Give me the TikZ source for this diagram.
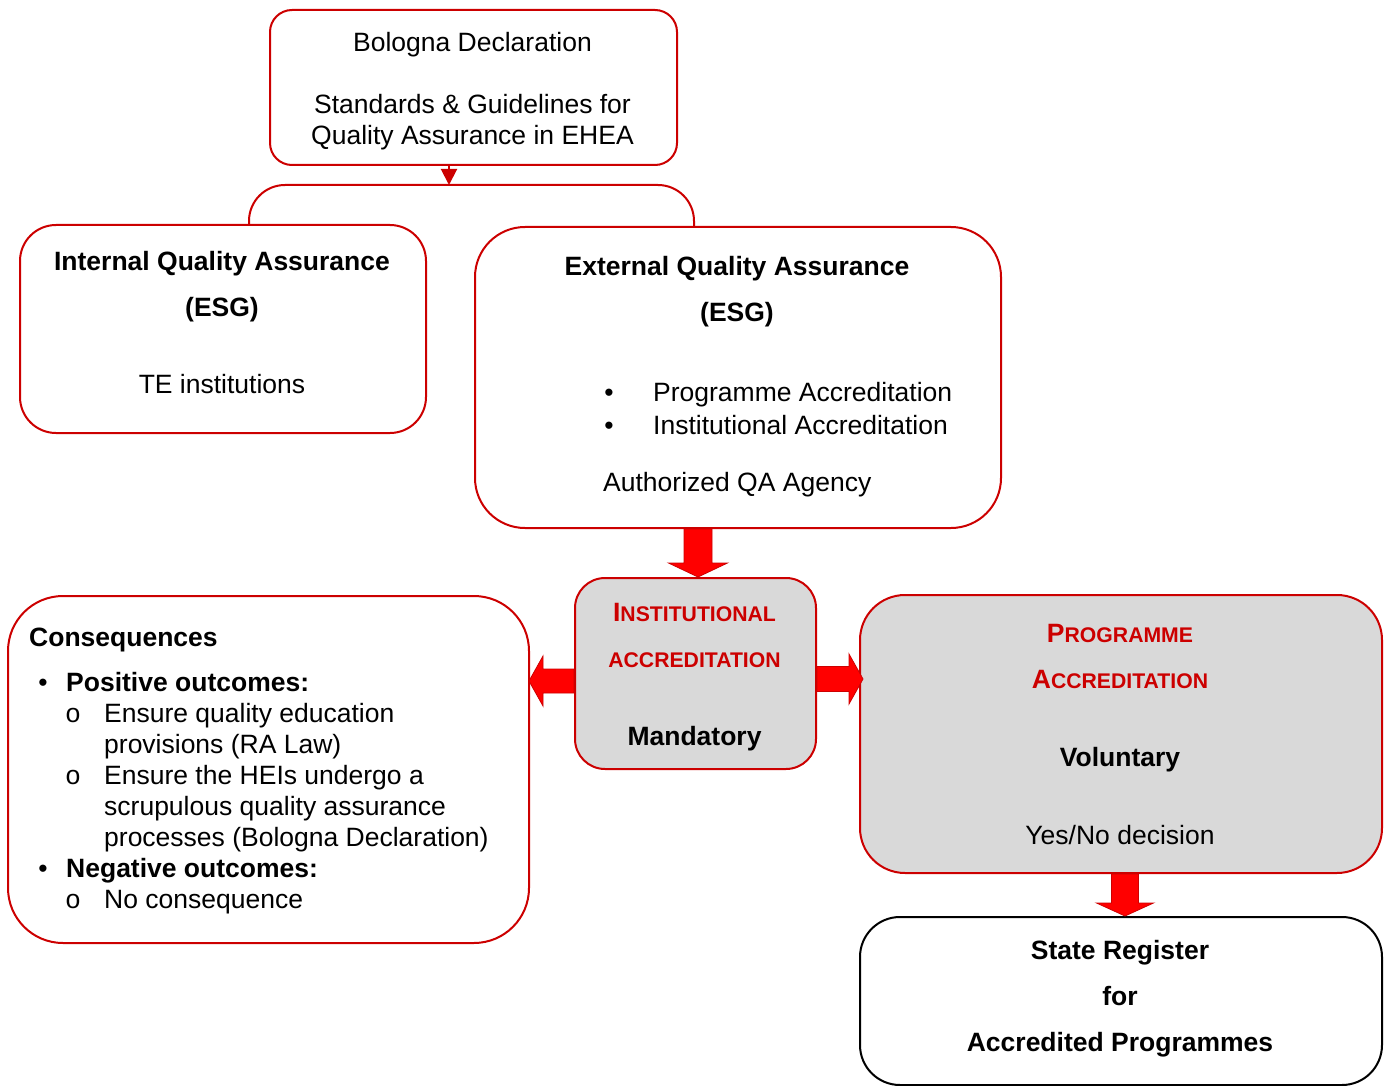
\documentclass[tikz,border=0pt]{standalone}
\usepackage{fontspec}
\setmainfont{Liberation Sans}
\newfontfamily\subbulletfont{Liberation Mono}
\usetikzlibrary{calc,arrows.meta}

\definecolor{boxred}{RGB}{204,0,0}
\definecolor{boxgray}{RGB}{217,217,217}
\definecolor{arrowred}{RGB}{255,0,0}
\definecolor{arrowedge}{RGB}{205,0,0}

% hand-made small capitals: first letter full size, the rest reduced
\newcommand{\fsc}[2]{{\fontsize{26.5}{31}\selectfont #1}{\fontsize{21.2}{25}\selectfont #2}}

% block arrows: start, tip, shaft half-width, head half-width, signed head length
\newcommand{\vblock}[5]{%
  \filldraw[blockarrow] ($(#1)+(-#3,0)$) -- ($(#2)+(-#3,#5)$) -- ($(#2)+(-#4,#5)$) -- (#2)
    -- ($(#2)+(#4,#5)$) -- ($(#2)+(#3,#5)$) -- ($(#1)+(#3,0)$) -- cycle;}
\newcommand{\hblock}[5]{%
  \filldraw[blockarrow] ($(#1)+(0,-#3)$) -- ($(#2)+(#5,-#3)$) -- ($(#2)+(#5,-#4)$) -- (#2)
    -- ($(#2)+(#5,#4)$) -- ($(#2)+(#5,#3)$) -- ($(#1)+(0,#3)$) -- cycle;}

\begin{document}
\begin{tikzpicture}[x=1pt,y=-1pt,
  box/.style={draw=boxred, line width=2pt, rectangle, inner sep=0pt, anchor=north west},
  graybox/.style={box, fill=boxgray},
  txt/.style={inner sep=0pt, font=\fontsize{26.5}{31}\selectfont},
  btxt/.style={inner sep=0pt, font=\fontsize{26.5}{31}\selectfont\bfseries},
  subbullet/.style={inner sep=0pt, font=\fontsize{26.5}{31}\subbulletfont},
  sctxt/.style={inner sep=0pt, font=\bfseries, text=boxred},
  conn/.style={draw=boxred, line width=2pt},
  blockarrow/.style={fill=arrowred, draw=arrowedge, line width=0.8pt, line join=miter}
]
\useasboundingbox (0,0) rectangle (1387,1086);

% ---- boxes ----
\node[box, minimum width=407pt, minimum height=155pt, rounded corners=22pt] (top) at (269,9) {};
\node[box, minimum width=406pt, minimum height=208pt, rounded corners=36pt] (iqa) at (19,224) {};
\node[box, minimum width=526pt, minimum height=301pt, rounded corners=50pt] (eqa) at (474,226) {};
\node[graybox, minimum width=241pt, minimum height=191pt, rounded corners=30pt] (inst) at (574,577) {};
\node[graybox, minimum width=522pt, minimum height=278pt, rounded corners=45pt] (prog) at (859,594) {};
\node[box, minimum width=521pt, minimum height=347pt, rounded corners=55pt] (cons) at (7,595) {};
\node[box, draw=black, minimum width=522pt, minimum height=168pt, rounded corners=40pt] (reg) at (859,916) {};

% ---- top box text ----
\node[txt, anchor=base] (bol) at (472.5,52) {Bologna Declaration};
\node[txt, anchor=base] (std1) at (472.5,114) {Standards \& Guidelines for};
\node[txt, anchor=base] (std2) at (472.5,145) {Quality Assurance in EHEA};

% ---- branching connector ----
\coordinate (brtip) at ($(top.south)+(-24.5,19)$);
\draw[conn, -{Triangle[length=16pt,width=16pt]}] ($(top.south)+(-24.5,0)$) -- (brtip);
\coordinate (brL) at ($(iqa.north west)+(230,0)$);
\coordinate (brR) at ($(eqa.north west)+(220,0)$);
\draw[conn, rounded corners=36pt] (brL) -- (brL |- brtip) -- (brR |- brtip) -- (brR);

% ---- internal QA ----
\node[btxt, anchor=base] (iqa1) at (222,270) {Internal Quality Assurance};
\node[btxt, anchor=base] (iqa2) at (222,316) {(ESG)};
\node[txt, anchor=base] (iqa3) at (222,393) {TE institutions};

% ---- external QA ----
\node[btxt, anchor=base] (eqa1) at (737,275) {External Quality Assurance};
\node[btxt, anchor=base] (eqa2) at (737,321) {(ESG)};
\node[txt, anchor=base] (eqb1) at (609,401) {\textbullet};
\node[txt, anchor=base west] (eqa3) at (653,401) {Programme Accreditation};
\node[txt, anchor=base] (eqb2) at (609,434) {\textbullet};
\node[txt, anchor=base west] (eqa4) at (653,434) {Institutional Accreditation};
\node[txt, anchor=base west] (eqa5) at (603,491) {Authorized QA Agency};

% ---- institutional accreditation ----
\node[sctxt, anchor=base] (ins1) at (694.5,621) {\fsc{I}{NSTITUTIONAL}};
\node[sctxt, anchor=base] (ins2) at (694.5,667) {\fsc{}{ACCREDITATION}};
\node[btxt, anchor=base] (ins3) at (694.5,745) {Mandatory};

% ---- programme accreditation ----
\node[sctxt, anchor=base] (prg1) at (1120,642) {\fsc{P}{ROGRAMME}};
\node[sctxt, anchor=base] (prg2) at (1120,688) {\fsc{A}{CCREDITATION}};
\node[btxt, anchor=base] (prg3) at (1120,766) {Voluntary};
\node[txt, anchor=base] (prg4) at (1120,844) {Yes/No decision};

% ---- consequences ----
\node[btxt, anchor=base west] (c0) at (29,646) {Consequences};
\node[txt, anchor=base] (cb1) at (43,691) {\textbullet};
\node[btxt, anchor=base west] (c1) at (66,691) {Positive outcomes:};
\node[subbullet, anchor=base] (co1) at (73,722) {o};
\node[txt, anchor=base west] (c2) at (104,722) {Ensure quality education};
\node[txt, anchor=base west] (c3) at (104,753) {provisions (RA Law)};
\node[subbullet, anchor=base] (co2) at (73,784) {o};
\node[txt, anchor=base west] (c4) at (104,784) {Ensure the HEIs undergo a};
\node[txt, anchor=base west] (c5) at (104,815) {scrupulous quality assurance};
\node[txt, anchor=base west] (c6) at (104,846) {processes (Bologna Declaration)};
\node[txt, anchor=base] (cb2) at (43,877) {\textbullet};
\node[btxt, anchor=base west] (c7) at (66,877) {Negative outcomes:};
\node[subbullet, anchor=base] (co3) at (73,908) {o};
\node[txt, anchor=base west] (c8) at (104,908) {No consequence};

% ---- state register ----
\node[btxt, anchor=base] (reg1) at (1120,959) {State Register};
\node[btxt, anchor=base] (reg2) at (1120,1005) {for};
\node[btxt, anchor=base] (reg3) at (1120,1051) {Accredited Programmes};

% ---- block arrows ----
\coordinate (a1s) at ($(eqa.south)+(-40,0)$);
\coordinate (a1t) at ($(inst.north)+(2.5,0)$);
\vblock{a1s}{a1t}{14}{29.5}{-14}

\coordinate (a2s) at ($(inst.west)+(0,7.5)$);
\coordinate (a2t) at ($(cons.east |- a2s)+(-1,0)$);
\hblock{a2s}{a2t}{12}{25}{14}

\coordinate (a3s) at ($(inst.east)+(0,5.5)$);
\coordinate (a3t) at ($(prog.west |- a3s)+(4,0)$);
\hblock{a3s}{a3t}{12.5}{25}{-14}

\coordinate (a4s) at ($(prog.south)+(4,0)$);
\coordinate (a4t) at (a4s |- reg.north);
\vblock{a4s}{a4t}{13.5}{28.5}{-13}
\end{tikzpicture}
\end{document}
